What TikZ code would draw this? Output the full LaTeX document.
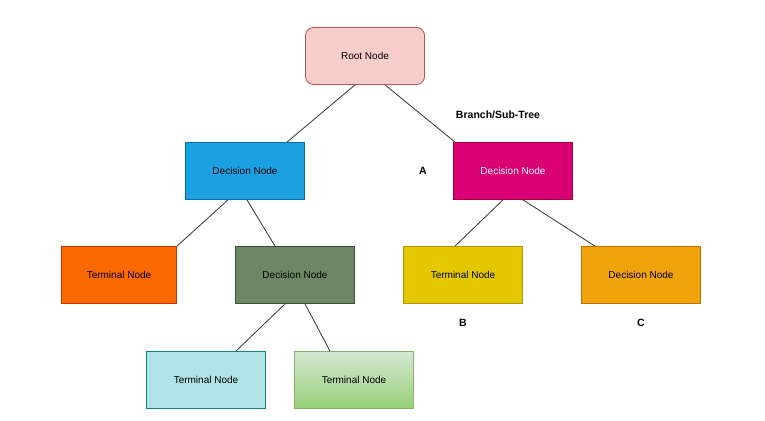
\documentclass[tikz,border=0pt]{standalone}
\usepackage{fontspec}
\setmainfont{Liberation Sans}
\usetikzlibrary{calc}
\definecolor{pinkF}{HTML}{F8CECC}\definecolor{pinkD}{HTML}{B85450}
\definecolor{blueF}{HTML}{1BA1E2}\definecolor{blueD}{HTML}{006EAF}
\definecolor{magF}{HTML}{D80073}\definecolor{magD}{HTML}{A50040}
\definecolor{orF}{HTML}{FA6800}\definecolor{orD}{HTML}{C73500}
\definecolor{grF}{HTML}{6D8764}\definecolor{grD}{HTML}{3A5431}
\definecolor{yeF}{HTML}{E3C800}\definecolor{yeD}{HTML}{B09500}
\definecolor{amF}{HTML}{F0A30A}\definecolor{amD}{HTML}{BD7000}
\definecolor{tlF}{HTML}{B0E3E6}\definecolor{tlD}{HTML}{0E8088}
\definecolor{lgA}{HTML}{D5E8D4}\definecolor{lgB}{HTML}{97D077}\definecolor{lgD}{HTML}{82B366}
\begin{document}
\begin{tikzpicture}[x=1pt,y=-1pt,
  box/.style={draw,minimum width=119pt,minimum height=57pt,inner sep=0pt,font=\fontsize{10}{12}\selectfont,line width=0.8pt},
  lbl/.style={font=\bfseries\fontsize{10.5}{12}\selectfont},
  edge/.style={line width=0.8pt,black!80}]
\useasboundingbox (0,0) rectangle (765,420);
\node[box,rounded corners=8pt,fill=pinkF,draw=pinkD] (root) at (365,56) {Root Node};
\node[box,fill=blueF,draw=blueD] (d1) at (245,171) {Decision Node};
\node[box,fill=magF,draw=magD,text=white] (d2) at (513,171) {Decision Node};
\node[box,fill=orF,draw=orD,minimum width=115pt] (t1) at (119,275) {Terminal Node};
\node[box,fill=grF,draw=grD] (d3) at (295,275) {Decision Node};
\node[box,fill=yeF,draw=yeD] (t2) at (463,275) {Terminal Node};
\node[box,fill=amF,draw=amD] (d4) at (641,275) {Decision Node};
\node[box,fill=tlF,draw=tlD] (t3) at (206,380) {Terminal Node};
\node[box,top color=lgA,bottom color=lgB,draw=lgD] (t4) at (354,380) {Terminal Node};
\node[lbl] (br) at (498,115) {Branch/Sub-Tree};
\node[lbl] (la) at (423,171) {A};
\node[lbl] (lb) at (463,323) {B};
\node[lbl] (lc) at (641,323) {C};
\draw[edge] ($(root.south)+(-10,0)$) -- ($(d1.north)+(42,0)$);
\draw[edge] ($(root.south)+(20,0)$) -- ($(d2.north)+(-58,0)$);
\draw[edge] ($(d1.south)+(-17,0)$) -- ($(t1.north)+(58,0)$);
\draw[edge] ($(d1.south)+(2,0)$) -- ($(d3.north)+(-20,0)$);
\draw[edge] ($(d3.south)+(-10,0)$) -- ($(t3.north)+(30,0)$);
\draw[edge] ($(d3.south)+(10,0)$) -- ($(t4.north)+(-24,0)$);
\draw[edge] ($(d2.south)+(-10,0)$) -- ($(t2.north)+(-8,0)$);
\draw[edge] ($(d2.south)+(10,0)$) -- ($(d4.north)+(-46,0)$);
\end{tikzpicture}
\end{document}
